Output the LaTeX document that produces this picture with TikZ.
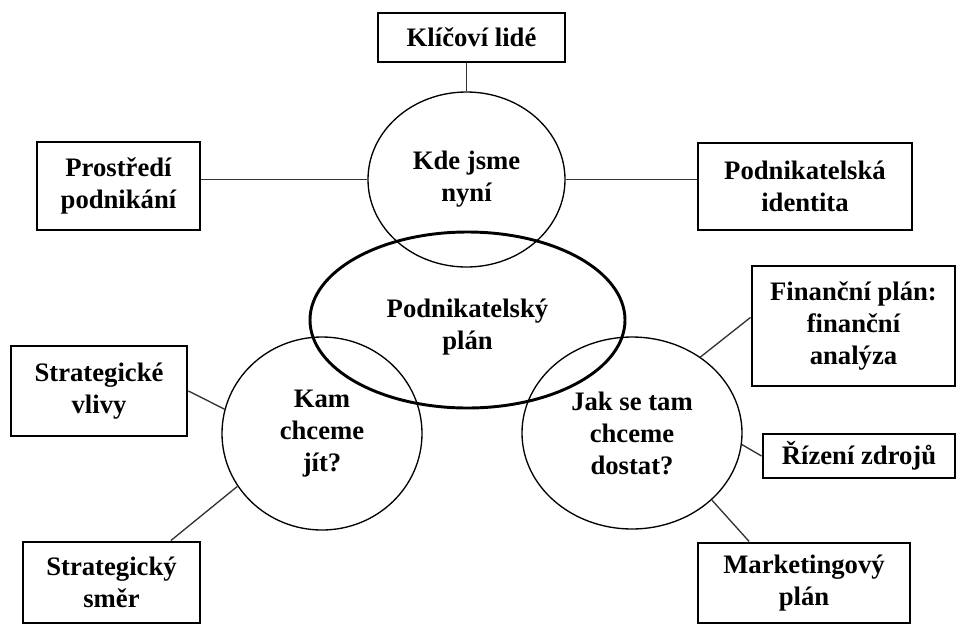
\documentclass[tikz,border=0pt]{standalone}
\usepackage{fontspec}
\setmainfont{Liberation Serif}
\usetikzlibrary{shapes.geometric,calc}
\tikzset{
  lbl/.style={font=\fontsize{20}{24}\selectfont\bfseries, align=center, text=black},
  box/.style={lbl, draw=black, line width=2.2pt, rectangle, inner sep=0pt},
  ring/.style={lbl, draw=black, line width=1pt, ellipse, inner sep=0pt},
  core/.style={lbl, draw=black, line width=2.2pt, ellipse, inner sep=0pt},
  link/.style={draw=black!80, line width=1pt}
}
\begin{document}
\begin{tikzpicture}[x=0.75pt,y=-0.75pt]
\useasboundingbox (0,0) rectangle (958,626);
% boxes
\node[box, minimum width=187*0.75pt, minimum height=49*0.75pt] (kl) at (471.5,37.5) {Klíčoví lidé};
\node[box, minimum width=163*0.75pt, minimum height=88*0.75pt] (pr) at (118.5,186) {Prostředí\\podnikání};
\node[box, minimum width=214*0.75pt, minimum height=87*0.75pt] (id) at (805,186.5) {Podnikatelská\\identita};
\node[box, minimum width=176*0.75pt, minimum height=90*0.75pt] (sv) at (99,391) {Strategické\\vlivy};
\node[box, minimum width=177*0.75pt, minimum height=81*0.75pt] (ss) at (111.5,582.5) {Strategický\\směr};
\node[box, minimum width=203*0.75pt, minimum height=120*0.75pt] (fin) at (853.5,326) {Finanční plán:\\finanční\\analýza};
\node[box, minimum width=192*0.75pt, minimum height=44*0.75pt] (riz) at (859,456) {Řízení zdrojů};
\node[box, minimum width=212*0.75pt, minimum height=80*0.75pt] (mk) at (804,583) {Marketingový\\plán};
% circles
\node[ring, minimum width=197*0.75pt, minimum height=175*0.75pt] (top) at (466.5,179.5) {Kde jsme\\nyní};
\node[core, minimum width=315*0.75pt, minimum height=176*0.75pt,
      label={[lbl,yshift=-5pt]center:{Podnikatelský\\plán}}] (plan) at (467.5,320) {};
\node[ring, minimum width=200*0.75pt, minimum height=193*0.75pt] (kam) at (322,433.5) {Kam\\chceme\\jít?};
\node[ring, minimum width=220*0.75pt, minimum height=192*0.75pt] (jak) at (632,433) {Jak se tam\\chceme\\dostat?};
% connectors
\draw[link] (top.north) -- (top.north |- kl.south);
\draw[link] (top.west) -- (top.west -| pr.east);
\draw[link] (top.east) -- (top.east -| id.west);
\draw[link] (kam.166) -- (sv.east);
\draw[link] (kam.212) -- ($(ss.north west)!0.83!(ss.north east)$);
\draw[link] (jak.48) -- ($(fin.north west)!0.43!(fin.south west)$);
\draw[link] (jak.354) -- (riz.west);
\draw[link] (jak.320) -- ($(mk.north west)!0.245!(mk.north east)$);
\end{tikzpicture}
\end{document}
